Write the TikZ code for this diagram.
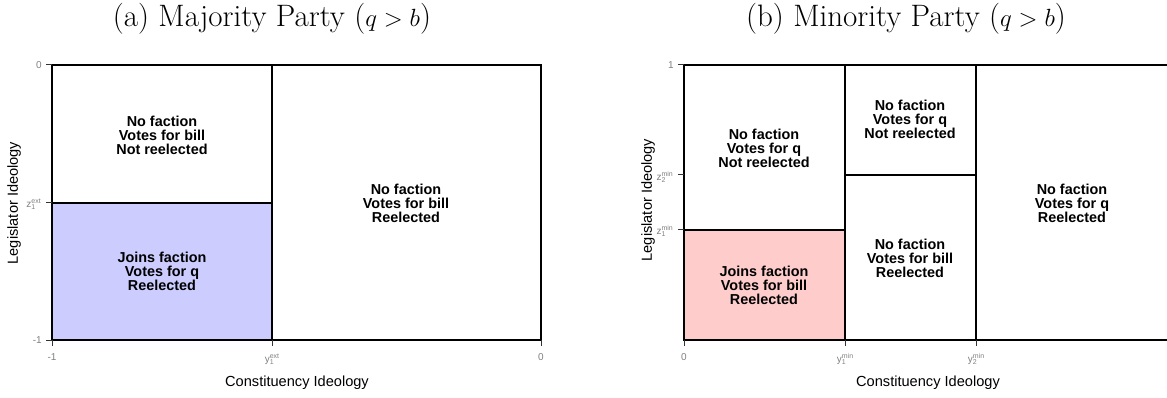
\documentclass[tikz,border=0pt]{standalone}
\usepackage{fontspec}
\newfontfamily\arialf{Liberation Sans}
\definecolor{majfill}{RGB}{204,204,255}
\definecolor{minfill}{RGB}{255,204,204}
\definecolor{ticklab}{RGB}{128,128,128}
\newcommand{\tkl}[3]{#1\rlap{\raisebox{-2.5pt}{\fontsize{7}{7}\selectfont #2}}\raisebox{4pt}{\fontsize{7}{7}\selectfont #3}}
\tikzset{
  regionlab/.style={font=\arialf\bfseries\fontsize{14.4}{14}\selectfont, align=center, inner sep=0pt},
  axtitle/.style={font=\arialf\fontsize{14.6}{16}\selectfont, inner sep=0pt},
  ticklabel/.style={font=\arialf\fontsize{10}{12}\selectfont, text=ticklab, inner sep=0pt},
  paneltitle/.style={font=\fontsize{31}{33}\selectfont, inner sep=0pt, anchor=base},
  borderline/.style={line width=1.6pt, black, line cap=rect},
  tickline/.style={line width=1pt, black!80},
}
\begin{document}
\begin{tikzpicture}[x=1pt,y=-1pt]
\useasboundingbox (0,0) rectangle (1167,398);
% titles
\node[paneltitle] (ta) at (272,27) {(a) Majority Party ($q>b$)};
\node[paneltitle] (tb) at (906,27) {(b) Minority Party ($q>b$)};

% ---------- panel (a)
\fill[majfill] (52,203) rectangle (272,340);
\draw[borderline] (52,65) rectangle (541,340);
\draw[borderline] (272,65) -- (272,340);
\draw[borderline] (52,203) -- (272,203);
\foreach \yy in {65,203,340} \draw[tickline] (46,\yy) -- (52,\yy);
\foreach \xx in {52,272,541} \draw[tickline] (\xx,340) -- (\xx,346);
\node[ticklabel,anchor=east] (ay0) at (42,65) {0};
\node[ticklabel,anchor=east] (ayz) at (41,204) {\tkl{z}{1}{ext}};
\node[ticklabel,anchor=east] (aym) at (42,340) {-1};
\node[ticklabel] (axm) at (52,357) {-1};
\node[ticklabel] (axy) at (272,359) {\tkl{y}{1}{ext}};
\node[ticklabel] (ax0) at (541,357) {0};
\node[axtitle] (axt) at (297,383) {Constituency Ideology};
\node[axtitle,rotate=90] (ayt) at (14,203) {Legislator Ideology};
\node[regionlab] (a1) at (162,135) {No faction\\Votes for bill\\Not reelected};
\node[regionlab] (a2) at (406,203) {No faction\\Votes for bill\\Reelected};
\node[regionlab] (a3) at (162,271) {Joins faction\\Votes for q\\Reelected};

% ---------- panel (b)
\fill[minfill] (684,230) rectangle (845,340);
\draw[borderline] (1170,65) -- (684,65) -- (684,340) -- (1170,340);
\draw[borderline] (845,65) -- (845,340);
\draw[borderline] (976,65) -- (976,340);
\draw[borderline] (684,230) -- (845,230);
\draw[borderline] (845,175) -- (976,175);
\foreach \yy in {65,175,230} \draw[tickline] (678,\yy) -- (684,\yy);
\draw[tickline] (684,340) -- (684,346);
\foreach \xx in {845,976} \draw[tickline] (\xx,340) -- (\xx,346);
\node[ticklabel,anchor=east] (by1) at (674,65) {1};
\node[ticklabel,anchor=east] (byz2) at (673,177) {\tkl{z}{2}{min}};
\node[ticklabel,anchor=east] (byz1) at (673,231) {\tkl{z}{1}{min}};
\node[ticklabel] (bx0) at (684,357) {0};
\node[ticklabel] (bxy1) at (845,359) {\tkl{y}{1}{min}};
\node[ticklabel] (bxy2) at (976,359) {\tkl{y}{2}{min}};
\node[axtitle] (bxt) at (928,383) {Constituency Ideology};
\node[axtitle,rotate=90] (byt) at (648,200) {Legislator Ideology};
\node[regionlab] (b1) at (764,148) {No faction\\Votes for q\\Not reelected};
\node[regionlab] (b2) at (910,119) {No faction\\Votes for q\\Not reelected};
\node[regionlab] (b3) at (910,258) {No faction\\Votes for bill\\Reelected};
\node[regionlab] (b4) at (764,285) {Joins faction\\Votes for bill\\Reelected};
\node[regionlab] (b5) at (1072,203) {No faction\\Votes for q\\Reelected};
\end{tikzpicture}
\end{document}
